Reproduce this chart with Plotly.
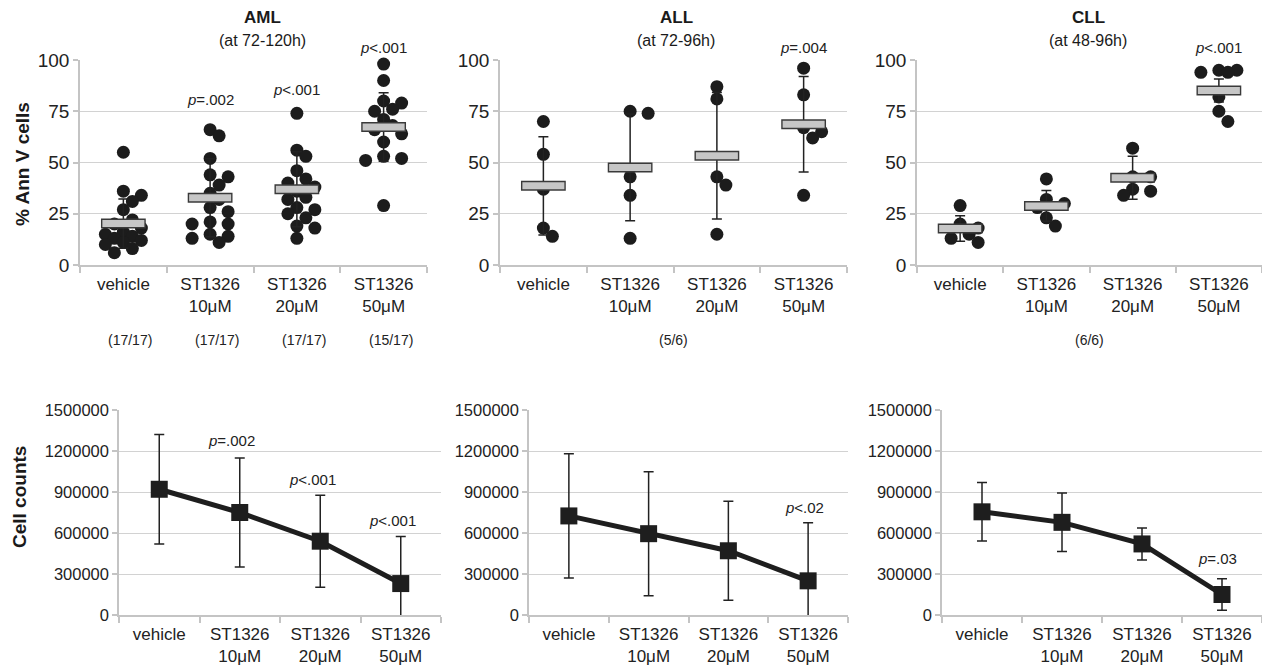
import plotly.graph_objects as go
import numpy as np

# ---------------- data ----------------
categories = ["vehicle", "ST1326<br>10μM", "ST1326<br>20μM", "ST1326<br>50μM"]
panel_names = ["AML", "ALL", "CLL"]
panel_times = ["(at 72-120h)", "(at 72-96h)", "(at 48-96h)"]

# % Ann V cells, individual samples
aml_vehicle = [55, 36, 34, 31, 27, 22, 20, 18, 16, 15, 14, 13, 12, 11, 10, 8, 6]
aml_10 = [66, 63, 52, 44, 43, 39, 35, 32, 28, 26, 21, 20, 20, 15, 14, 13, 11]
aml_20 = [74, 56, 53, 46, 42, 40, 38, 36, 33, 32, 28, 27, 25, 23, 19, 18, 13]
aml_50 = [98, 90, 80, 79, 76, 75, 71, 68, 66, 64, 60, 53, 52, 51, 29]

all_vehicle = [70, 54, 37, 18, 14]
all_10 = [75, 74, 43, 34, 13]
all_20 = [87, 81, 43, 39, 15]
all_50 = [96, 83, 67, 65, 62, 34]

cll_vehicle = [29, 20, 18, 15, 13, 11]
cll_10 = [42, 32, 30, 28, 23, 19]
cll_20 = [57, 43, 43, 37, 36, 34]
cll_50 = [95, 95, 94, 94, 82, 75, 70]

# mean and SD of % Ann V cells
aml_annv_mean = [20.2, 32.8, 36.9, 67.3]
aml_annv_sd = [12.0, 19.0, 18.3, 16.7]
all_annv_mean = [38.6, 47.6, 53.3, 68.7]
all_annv_sd = [24.0, 26.0, 30.9, 23.3]
cll_annv_mean = [17.8, 28.8, 42.6, 85.1]
cll_annv_sd = [6.2, 7.5, 10.5, 5.6]

# cell counts mean and SD
aml_count_mean = [920000, 750000, 540000, 230000]
aml_count_sd = [400000, 398000, 337000, 345000]
all_count_mean = [725000, 595000, 470000, 250000]
all_count_sd = [455000, 454000, 362000, 425000]
cll_count_mean = [755000, 678000, 520000, 150000]
cll_count_sd = [214000, 214000, 117000, 116000]

# p-value labels: (category index, value, text)
aml_annv_p = [(1, 80.5, "=.002"), (2, 85.5, "<.001"), (3, 106, "<.001")]
all_annv_p = [(3, 106, "=.004")]
cll_annv_p = [(3, 106, "<.001")]
aml_count_p = [(0.9, 1280000, "=.002"), (1.9, 995000, "<.001"), (2.9, 688000, "<.001")]
all_count_p = [(2.96, 783000, "<.02")]
cll_count_p = [(2.94, 410000, "=.03")]

aml_n = ["(17/17)", "(17/17)", "(17/17)", "(15/17)"]
all_n = ["(5/6)"]
cll_n = ["(6/6)"]

# ---------------- layout helpers ----------------
W, H = 1262, 667
FONT = "Liberation Sans, Arial, sans-serif"
TXT = "#222222"
GRID = "#d2d2d2"
AX = "#c4c4c4"
DOT = "#1c1c1c"


def fx(p):
    return p / W


def fy(p):
    return 1 - p / H


top_x = [(80, 427), (500, 847), (917, 1262)]
bot_x = [(119, 441), (529, 848), (942, 1262)]
top_y = (60, 265)
bot_y = (410, 615)


def beeswarm(vals, px_per_cat, px_per_unit, diam=13.0, step=9.0):
    order = np.argsort(-np.asarray(vals, dtype=float))
    placed = []
    offs = [0.0] * len(vals)
    cands = [0, 1, -1, 2, -2]
    for idx in order:
        yv = vals[idx] * px_per_unit
        best, bestd = 0.0, -1
        for c in cands:
            xo = c * step
            dmin = min([np.hypot(xo - px, yv - py) for px, py in placed] or [1e9])
            if dmin >= 0.8 * diam:
                best = xo
                bestd = dmin
                break
            if dmin > bestd + 0.5:
                best, bestd = xo, dmin
        placed.append((best, yv))
        offs[idx] = best / px_per_cat
    return offs


fig = go.Figure()
layout = dict(
    width=W, height=H, margin=dict(l=0, r=0, t=0, b=0, autoexpand=False),
    paper_bgcolor="white", plot_bgcolor="white", showlegend=False,
    font=dict(family=FONT, color=TXT),
)

annots = []

top_points = [
    [aml_vehicle, aml_10, aml_20, aml_50],
    [all_vehicle, all_10, all_20, all_50],
    [cll_vehicle, cll_10, cll_20, cll_50],
]
top_means = [aml_annv_mean, all_annv_mean, cll_annv_mean]
top_sds = [aml_annv_sd, all_annv_sd, cll_annv_sd]
top_p = [aml_annv_p, all_annv_p, cll_annv_p]
bot_means = [aml_count_mean, all_count_mean, cll_count_mean]
bot_sds = [aml_count_sd, all_count_sd, cll_count_sd]
bot_p = [aml_count_p, all_count_p, cll_count_p]

xpos = [0, 1, 2, 3]


def xaxis_def(dom, fs):
    return dict(
        domain=[fx(dom[0]), fx(dom[1])], range=[-0.5, 3.5], automargin=False,
        tickmode="array", tickvals=xpos, ticktext=categories,
        ticks="", showgrid=False, zeroline=False,
        showline=True, linecolor=AX, linewidth=1.5,
        tickfont=dict(size=fs, color=TXT, family=FONT),
        ticklabelstandoff=3,
        minor=dict(tickmode="array", tickvals=[-0.5, 0.5, 1.5, 2.5, 3.5],
                   ticks="outside", ticklen=6, tickcolor=AX, tickwidth=1.5,
                   showgrid=False),
        fixedrange=True,
    )


def ann(x, y, xref, yref, text, size, color=TXT, angle=0):
    return dict(x=x, y=y, xref=xref, yref=yref, text=text, showarrow=False,
                xanchor="center", yanchor="middle", textangle=angle,
                font=dict(size=size, color=color, family=FONT))


for k in range(3):
    # ----- top panel (dot plot) -----
    xi = 2 * k + 1
    xn = "x" if xi == 1 else f"x{xi}"
    yn = "y" if xi == 1 else f"y{xi}"
    layout["xaxis" if xi == 1 else f"xaxis{xi}"] = dict(xaxis_def(top_x[k], 17), anchor=yn)
    layout["yaxis" if xi == 1 else f"yaxis{xi}"] = dict(
        domain=[fy(top_y[1]), fy(top_y[0])], range=[0, 100], anchor=xn, automargin=False,
        tickmode="array", tickvals=[0, 25, 50, 75, 100],
        showgrid=True, gridcolor=GRID, gridwidth=1.3, zeroline=False,
        showline=True, linecolor=AX, linewidth=1.5,
        ticks="outside", ticklen=5, tickcolor=AX, tickwidth=1.5,
        tickfont=dict(size=19, color=TXT, family=FONT), fixedrange=True,
    )
    pxcat = (top_x[k][1] - top_x[k][0]) / 4.0
    pxunit = (top_y[1] - top_y[0]) / 100.0
    for g, vals in enumerate(top_points[k]):
        offs = beeswarm(vals, pxcat, pxunit)
        fig.add_trace(go.Scatter(
            x=[g + o for o in offs], y=vals, mode="markers", xaxis=xn, yaxis=yn,
            marker=dict(size=13, color=DOT), cliponaxis=False, hoverinfo="y"))
    fig.add_trace(go.Scatter(
        x=xpos, y=top_means[k], mode="markers", xaxis=xn, yaxis=yn,
        marker=dict(size=1, color="rgba(0,0,0,0)"),
        error_y=dict(type="data", array=top_sds[k], color="#222222", thickness=1.5, width=5),
        cliponaxis=False))
    fig.add_trace(go.Scatter(
        x=xpos, y=top_means[k], mode="markers", xaxis=xn, yaxis=yn,
        marker=dict(symbol="line-ew", size=32, color="#3a3a3a",
                    line=dict(width=10, color="#3a3a3a")), cliponaxis=False))
    fig.add_trace(go.Scatter(
        x=xpos, y=top_means[k], mode="markers", xaxis=xn, yaxis=yn,
        marker=dict(symbol="line-ew", size=30, color="#c6c6c6",
                    line=dict(width=7, color="#c6c6c6")), cliponaxis=False))
    for (ci, val, txt) in top_p[k]:
        annots.append(ann(ci, val / 100.0, xn, f"{yn} domain", f"<i>p</i>{txt}", 15))

    # ----- bottom panel (line) -----
    xb = 2 * k + 2
    xbn, ybn = f"x{xb}", f"y{xb}"
    layout[f"xaxis{xb}"] = dict(xaxis_def(bot_x[k], 17), anchor=ybn)
    layout[f"yaxis{xb}"] = dict(
        domain=[fy(bot_y[1]), fy(bot_y[0])], range=[0, 1500000], anchor=xbn, automargin=False,
        tickmode="linear", tick0=0, dtick=300000, tickformat="d",
        showgrid=True, gridcolor=GRID, gridwidth=1.3, zeroline=False,
        showline=True, linecolor=AX, linewidth=1.5,
        ticks="outside", ticklen=5, tickcolor=AX, tickwidth=1.5,
        tickfont=dict(size=16.5, color=TXT, family=FONT), fixedrange=True,
    )
    fig.add_trace(go.Scatter(
        x=xpos, y=bot_means[k], mode="lines+markers", xaxis=xbn, yaxis=ybn,
        line=dict(color="#1e1e1e", width=5),
        marker=dict(symbol="square", size=17, color="#1e1e1e"),
        error_y=dict(type="data", array=bot_sds[k], color="#222222", thickness=1.5, width=5)))
    for (ci, val, txt) in bot_p[k]:
        annots.append(ann(ci, val / 1500000.0, xbn, f"{ybn} domain", f"<i>p</i>{txt}", 15))

# titles
title_cx = [262.5, 676, 1088]
for k in range(3):
    annots.append(ann(fx(title_cx[k]), fy(17.5), "paper", "paper",
                      f"<b>{panel_names[k]}</b>", 17, "#1a1a1a"))
    annots.append(ann(fx(title_cx[k]), fy(40), "paper", "paper",
                      panel_times[k], 16, "#1a1a1a"))

# n labels
for i, t in enumerate(aml_n):
    annots.append(ann(i + 0.08, fy(339.5), "x", "paper", t, 14))
annots.append(ann(1.5, fy(339.5), "x3", "paper", all_n[0], 14))
annots.append(ann(1.5, fy(339.5), "x5", "paper", cll_n[0], 14))

# axis titles
annots.append(ann(fx(22), fy(164), "paper", "paper", "<b>% Ann V cells</b>", 19, "#1a1a1a", -90))
annots.append(ann(fx(19), fy(497), "paper", "paper", "<b>Cell counts</b>", 19, "#1a1a1a", -90))

layout["annotations"] = annots
fig.update_layout(**layout)
fig.write_html("out.html", config={"displayModeBar": False},
               post_script="document.body.style.margin='0';document.body.style.overflow='hidden';")
